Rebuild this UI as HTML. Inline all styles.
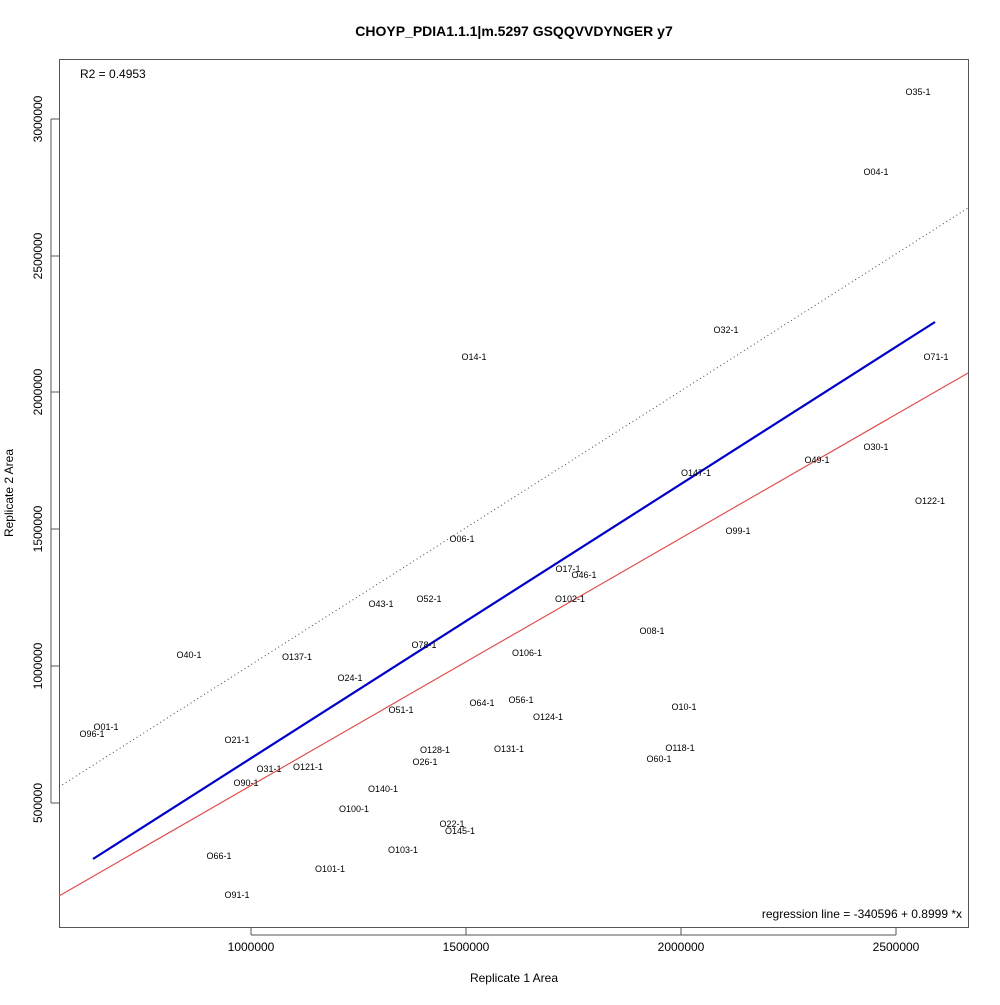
<!DOCTYPE html>
<html><head><meta charset="utf-8"><style>body{margin:0;background:#fff}</style></head><body>
<svg width="1000" height="1000" xmlns="http://www.w3.org/2000/svg" font-family="Liberation Sans, Arial, sans-serif">
<rect width="1000" height="1000" fill="#fff"/>
<text x="514" y="36" font-size="14" font-weight="bold" text-anchor="middle">CHOYP_PDIA1.1.1|m.5297 GSQQVVDYNGER y7</text>
<rect x="59.5" y="59.5" width="909" height="868" fill="none" stroke="#555" stroke-width="1"/>
<g stroke="#555">
<line x1="251" y1="928" x2="251" y2="935"/><line x1="466" y1="928" x2="466" y2="935"/><line x1="681" y1="928" x2="681" y2="935"/><line x1="896" y1="928" x2="896" y2="935"/>
<line x1="251" y1="935" x2="896" y2="935"/>
<line x1="51" y1="119" x2="59" y2="119"/><line x1="51" y1="256" x2="59" y2="256"/><line x1="51" y1="392" x2="59" y2="392"/><line x1="51" y1="529" x2="59" y2="529"/><line x1="51" y1="666" x2="59" y2="666"/><line x1="51" y1="803" x2="59" y2="803"/>
<line x1="51" y1="119" x2="51" y2="803"/>
</g>
<g font-size="12" text-anchor="middle">
<text x="251" y="951">1000000</text><text x="466" y="951">1500000</text><text x="681" y="951">2000000</text><text x="896" y="951">2500000</text>
<text x="514" y="982">Replicate 1 Area</text>
<text transform="translate(42,119) rotate(-90)">3000000</text>
<text transform="translate(42,256) rotate(-90)">2500000</text>
<text transform="translate(42,392) rotate(-90)">2000000</text>
<text transform="translate(42,529) rotate(-90)">1500000</text>
<text transform="translate(42,666) rotate(-90)">1000000</text>
<text transform="translate(42,803) rotate(-90)">500000</text>
<text transform="translate(13,493) rotate(-90)">Replicate 2 Area</text>
</g>
<text x="80" y="78" font-size="12">R2 = 0.4953</text>
<text x="962" y="918" font-size="12" text-anchor="end">regression line = -340596 + 0.8999 *x</text>
<line x1="59" y1="787" x2="968" y2="208" stroke="#444" stroke-width="1" stroke-dasharray="1,3"/>
<line x1="59" y1="896" x2="968" y2="373" stroke="#e05050" stroke-width="1.2"/>
<line x1="93" y1="859" x2="935" y2="322" stroke="#0000c8" stroke-width="2.2"/>
<g font-size="9" text-anchor="middle">
<text x="918" y="95">O35-1</text><text x="876" y="175">O04-1</text><text x="726" y="333">O32-1</text><text x="936" y="360">O71-1</text>
<text x="474" y="360">O14-1</text><text x="876" y="450">O30-1</text><text x="817" y="463">O49-1</text><text x="696" y="476">O147-1</text>
<text x="930" y="504">O122-1</text><text x="738" y="534">O99-1</text><text x="462" y="542">O06-1</text><text x="568" y="572">O17-1</text>
<text x="584" y="578">O46-1</text><text x="429" y="602">O52-1</text><text x="570" y="602">O102-1</text><text x="381" y="607">O43-1</text>
<text x="652" y="634">O08-1</text><text x="424" y="648">O78-1</text><text x="189" y="658">O40-1</text><text x="297" y="660">O137-1</text>
<text x="527" y="656">O106-1</text><text x="350" y="681">O24-1</text><text x="521" y="703">O56-1</text><text x="482" y="706">O64-1</text>
<text x="684" y="710">O10-1</text><text x="401" y="713">O51-1</text><text x="548" y="720">O124-1</text><text x="106" y="730">O01-1</text>
<text x="92" y="737">O96-1</text><text x="237" y="743">O21-1</text><text x="435" y="753">O128-1</text><text x="509" y="752">O131-1</text>
<text x="680" y="751">O118-1</text><text x="425" y="765">O26-1</text><text x="659" y="762">O60-1</text><text x="308" y="770">O121-1</text>
<text x="269" y="772">O31-1</text><text x="246" y="786">O90-1</text><text x="383" y="792">O140-1</text><text x="354" y="812">O100-1</text>
<text x="452" y="827">O22-1</text><text x="460" y="834">O145-1</text><text x="403" y="853">O103-1</text><text x="219" y="859">O66-1</text>
<text x="330" y="872">O101-1</text><text x="237" y="898">O91-1</text>
</g>
</svg>
</body></html>
